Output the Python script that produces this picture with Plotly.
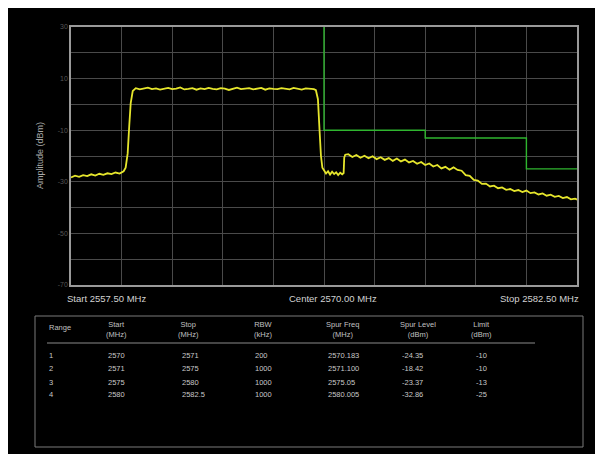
import plotly.graph_objects as go

# ---------------- data ----------------
trace_freq_mhz = [
    2557.5, 2557.7, 2557.9, 2558.1, 2558.3, 2558.5, 2558.7, 2558.9, 2559.1, 2559.3,
    2559.5, 2559.7, 2559.9, 2560.1,
    2560.2, 2560.3, 2560.38, 2560.45, 2560.55,
    2560.7, 2560.9, 2561.1, 2561.3, 2561.5, 2561.7, 2561.9, 2562.1, 2562.3, 2562.5,
    2562.7, 2562.9, 2563.1, 2563.3, 2563.5, 2563.7, 2563.9, 2564.1, 2564.3, 2564.5,
    2564.7, 2564.9, 2565.1, 2565.3, 2565.5, 2565.7, 2565.9, 2566.1, 2566.3, 2566.5,
    2566.7, 2566.9, 2567.1, 2567.3, 2567.5, 2567.7, 2567.9, 2568.1, 2568.3, 2568.5,
    2568.7, 2568.9, 2569.1, 2569.3, 2569.5,
    2569.6, 2569.7, 2569.78, 2569.85, 2569.92,
    2570.0, 2570.1, 2570.2, 2570.3, 2570.4, 2570.5, 2570.6, 2570.7, 2570.8, 2570.9, 2570.97,
    2571.0, 2571.05,
    2571.2, 2571.4, 2571.6, 2571.8, 2572.0, 2572.2, 2572.4, 2572.6, 2572.8, 2573.0,
    2573.2, 2573.4, 2573.6, 2573.8, 2574.0, 2574.2, 2574.4, 2574.6, 2574.8, 2575.0,
    2575.2, 2575.4, 2575.6, 2575.8, 2576.0, 2576.2, 2576.4, 2576.6, 2576.8, 2577.0,
    2577.2, 2577.4, 2577.6, 2577.8, 2578.0, 2578.2, 2578.4, 2578.6, 2578.8, 2579.0,
    2579.2, 2579.4, 2579.6, 2579.8, 2580.0, 2580.2, 2580.4, 2580.6, 2580.8, 2581.0,
    2581.2, 2581.4, 2581.6, 2581.8, 2582.0, 2582.2, 2582.4, 2582.5,
]
trace_level_dbm = [
    -28.3, -27.6, -28.1, -27.4, -27.8, -27.1, -27.6, -26.9, -27.3, -26.7,
    -27.0, -26.4, -26.8, -25.9,
    -24.5, -19.0, -8.0, 0.5, 5.2,
    6.3, 5.8, 6.1, 6.5, 5.9, 6.2, 5.7, 6.0, 6.4, 5.9,
    6.1, 6.6, 5.8, 6.0, 6.3, 5.7, 6.2, 5.9, 6.4, 6.0,
    5.8, 6.3, 6.1, 5.6, 6.2, 6.5, 5.9, 6.0, 6.3, 5.8,
    6.1, 6.4, 5.7, 6.2, 6.0, 5.9, 6.3, 6.1, 5.8, 6.4,
    6.0, 5.7, 6.2, 6.1, 5.9,
    5.5, 2.0, -10.0, -20.0, -24.5,
    -25.6, -26.8, -25.9, -27.2, -26.1, -27.0, -26.3, -27.4, -26.5, -27.1, -26.6,
    -20.6, -19.5,
    -19.3, -20.4, -19.6, -20.7, -19.9, -20.9, -20.1, -21.2, -20.5, -21.5,
    -20.8, -21.9, -21.0, -22.1, -21.4, -22.5, -21.9, -23.0, -22.3, -23.5,
    -22.9, -24.1, -23.5, -24.8, -24.2, -25.3, -24.4, -25.4, -25.7, -27.4,
    -27.7, -29.3, -29.5, -30.8, -30.7, -31.8, -31.5, -32.5, -32.2, -33.1,
    -32.8, -33.6, -33.2, -34.0, -33.4, -34.4, -34.1, -34.9, -34.5, -35.4,
    -35.0, -35.8, -35.5, -36.3, -35.9, -36.8, -36.5, -36.9,
]

limit_freq_mhz = [2570.0, 2570.0, 2575.0, 2575.0, 2580.0, 2580.0, 2582.5]
limit_level_dbm = [32.0, -10.0, -10.0, -13.0, -13.0, -25.0, -25.0]

y_tick_vals = [-70, -60, -50, -40, -30, -20, -10, 0, 10, 20, 30]
y_tick_text = ["-70", "", "-50", "", "-30", "", "-10", "", "10", "", "30"]
x_tick_vals = [2557.5, 2560.0, 2562.5, 2565.0, 2567.5, 2570.0, 2572.5,
               2575.0, 2577.5, 2580.0, 2582.5]

freq_labels = ["Start 2557.50 MHz", "Center 2570.00 MHz", "Stop 2582.50 MHz"]

table_headers = ["Range", "Start<br>(MHz)", "Stop<br>(MHz)", "RBW<br>(kHz)",
                 "Spur Freq<br>(MHz)", "Spur Level<br>(dBm)", "Limit<br>(dBm)"]
col_range = ["1", "2", "3", "4"]
col_start = ["2570", "2571", "2575", "2580"]
col_stop = ["2571", "2575", "2580", "2582.5"]
col_rbw = ["200", "1000", "1000", "1000"]
col_spur_freq = ["2570.183", "2571.100", "2575.05", "2580.005"]
col_spur_level = ["-24.35", "-18.42", "-23.37", "-32.86"]
col_limit = ["-10", "-10", "-13", "-25"]

# ---------------- layout geometry ----------------
# page offset of the figure (browser body margin)
OFF = 8
W, H = 595 - OFF, 454 - OFF
# plot area in page pixels
PL, PR, PT, PB = 71, 577, 27, 285


def px(x):
    return (x - PL) / (PR - PL)


def py(y):
    return (PB - y) / (PB - PT)


fig = go.Figure()

fig.add_trace(go.Scatter(
    x=trace_freq_mhz, y=trace_level_dbm, mode="lines",
    line=dict(color="#e6e62c", width=1.8), hoverinfo="skip", showlegend=False,
))
fig.add_trace(go.Scatter(
    x=limit_freq_mhz, y=limit_level_dbm, mode="lines",
    line=dict(color="#2fb52f", width=1.4), cliponaxis=False,
    hoverinfo="skip", showlegend=False,
))

FONT = "Liberation Sans, Arial, sans-serif"

fig.update_layout(
    width=W, height=H,
    margin=dict(l=PL - OFF, r=W - (PR - OFF), t=PT - OFF, b=H - (PB - OFF), pad=0),
    paper_bgcolor="black", plot_bgcolor="black",
    font=dict(family=FONT, color="#c8c8c8"),
    showlegend=False,
    xaxis=dict(range=[2557.5, 2582.5], tickvals=x_tick_vals, showticklabels=False,
               showgrid=True, gridcolor="#4a4a4a", gridwidth=1, zeroline=False,
               showline=True, linecolor="#9a9a9a", linewidth=1.5, mirror=True,
               ticks=""),
    yaxis=dict(range=[-70, 30], tickvals=y_tick_vals, ticktext=y_tick_text,
               showgrid=True, gridcolor="#4a4a4a", gridwidth=1, zeroline=False,
               showline=True, linecolor="#9a9a9a", linewidth=1.5, mirror=True,
               ticks="", tickfont=dict(size=7, color="#555555", family=FONT)),
)

shapes = []
# table box and header rule
shapes.append(dict(type="rect", xref="paper", yref="paper", layer="above",
                   x0=px(35), x1=px(583), y0=py(447), y1=py(316),
                   line=dict(color="#7a7a7a", width=1)))
shapes.append(dict(type="line", xref="paper", yref="paper", layer="above",
                   x0=px(47), x1=px(535), y0=py(343), y1=py(343),
                   line=dict(color="#8a8a8a", width=1)))
fig.update_layout(shapes=shapes)

ann = []
# y axis title
ann.append(dict(text="Amplitude (dBm)", xref="paper", yref="paper",
                x=px(40), y=py(156), textangle=-90, showarrow=False,
                xanchor="center", yanchor="middle",
                font=dict(size=9, color="#a8a8a8", family=FONT)))
# frequency labels
for label, xpos, anchor in zip(freq_labels, [65, 333, 581], ["left", "center", "right"]):
    ann.append(dict(text=label, xref="paper", yref="paper", x=px(xpos), y=py(298),
                    xanchor=anchor, yanchor="middle", showarrow=False,
                    font=dict(size=9.5, color="#d2d2d2", family=FONT)))

# table headers
header_x = [47, 116, 188, 263, 342, 418, 481]
header_anchor = ["left", "center", "center", "center", "center", "center", "center"]
for t, xpos, anchor in zip(table_headers, header_x, header_anchor):
    ann.append(dict(text=t, xref="paper", yref="paper", x=px(xpos),
                    y=py(329.5 if t != "Range" else 327.5),
                    xanchor=anchor, yanchor="middle", showarrow=False,
                    font=dict(size=7.5, color="#c0c0c0", family=FONT)))

cols = [col_range, col_start, col_stop, col_rbw, col_spur_freq, col_spur_level, col_limit]
col_x = [47, 106, 180, 253, 326, 400, 474]
row_y = [355, 368, 382, 395]
for col, xpos in zip(cols, col_x):
    for val, ypos in zip(col, row_y):
        ann.append(dict(text=val, xref="paper", yref="paper", x=px(xpos), y=py(ypos),
                        xanchor="left", yanchor="middle", showarrow=False,
                        font=dict(size=7.5, color="#c8c8c8", family=FONT)))
fig.update_layout(annotations=ann)

fig.write_html("out.html")
